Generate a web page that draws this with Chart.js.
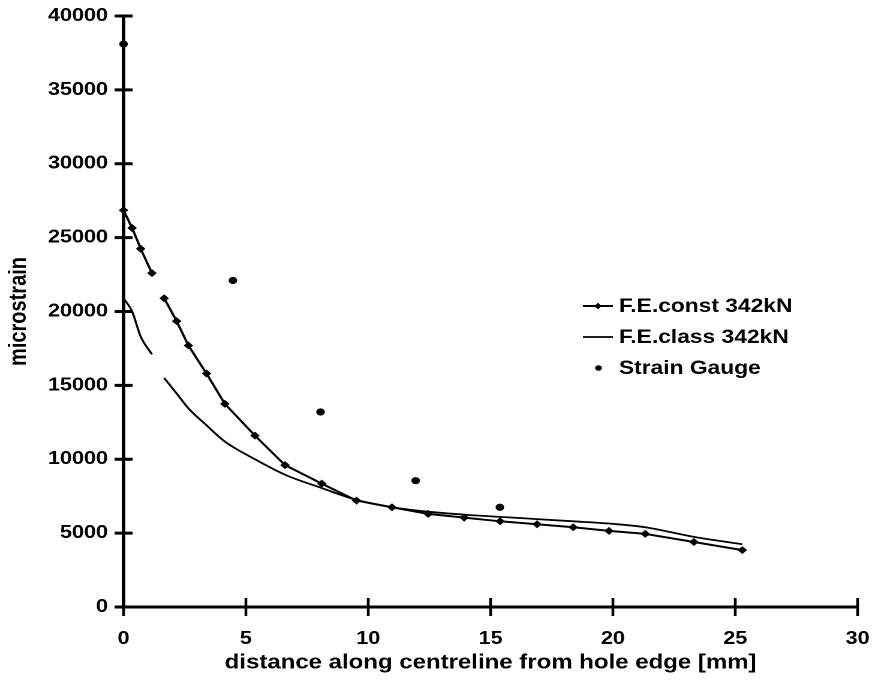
<!DOCTYPE html>
<html>
<head>
<meta charset="utf-8">
<script src="https://cdn.jsdelivr.net/npm/chart.js@4"></script>
<style>
  html, body { margin: 0; padding: 0; background: #fff; overflow: hidden; }
  #wrap { width: 727px; height: 686px; transform: scale(1.19945, 1); transform-origin: 0 0; }
</style>
</head>
<body>
<div id="wrap"><canvas id="c" width="727" height="686"></canvas></div>
<script>
// ---- data ----
const seriesNames = ["F.E.const 342kN", "F.E.class 342kN", "Strain Gauge"];

const constX = [0, 0.35, 0.7, 1.16, 1.41, 1.66, 2.17, 2.65, 3.39, 4.14, 5.37, 6.6, 8.1, 9.52, 10.97, 12.45, 13.92, 15.39, 16.9, 18.38, 19.84, 21.32, 23.31, 25.29];
const constY = [26850, 25650, 24250, 22600, null, 20900, 19350, 17700, 15800, 13750, 11600, 9600, 8350, 7200, 6750, 6300, 6050, 5800, 5600, 5400, 5150, 4950, 4400, 3850];

const classX = [0, 0.35, 0.7, 1.16, 1.41, 1.66, 2.17, 2.65, 3.39, 4.14, 5.37, 6.6, 8.1, 9.52, 10.97, 12.45, 13.92, 15.39, 16.9, 18.38, 19.84, 21.32, 23.31, 25.29];
const classY = [20900, 20000, 18300, 17100, null, 15500, 14450, 13450, 12300, 11200, 10000, 8950, 8050, 7250, 6750, 6450, 6250, 6100, 5950, 5800, 5650, 5400, 4750, 4250];

const gaugeX = [0, 4.47, 8.05, 11.94, 15.38];
const gaugeY = [38100, 22100, 13200, 8550, 6750];

const xTicks = [0, 5, 10, 15, 20, 25, 30];
const yTicks = [0, 5000, 10000, 15000, 20000, 25000, 30000, 35000, 40000];

const xTitle = "distance along centreline from hole edge [mm]";
const yTitle = "microstrain";

// ---- helpers ----
const pts = (xs, ys) => xs.map((x, i) => ({ x: x, y: ys[i] }));
const FONT = "'Liberation Sans', Arial, sans-serif";

const crossTicks = {
  id: 'crossTicks',
  afterDraw(chart) {
    const ctx = chart.ctx, xs = chart.scales.x, ys = chart.scales.y;
    const ca = chart.chartArea;
    ctx.save();
    ctx.strokeStyle = '#000';
    ctx.lineWidth = 2.3;
    xs.ticks.forEach(t => {
      const px = xs.getPixelForValue(t.value);
      ctx.beginPath(); ctx.moveTo(px, ca.bottom - 9); ctx.lineTo(px, ca.bottom + 9); ctx.stroke();
    });
    ctx.lineWidth = 3;
    ys.ticks.forEach(t => {
      const py = ys.getPixelForValue(t.value);
      ctx.beginPath(); ctx.moveTo(ca.left - 7.5, py); ctx.lineTo(ca.left + 7.5, py); ctx.stroke();
    });
    ctx.restore();
  }
};

const customLegend = {
  id: 'customLegend',
  afterDraw(chart, args, opts) {
    const ctx = chart.ctx;
    ctx.save();
    ctx.font = 'bold 19px ' + FONT;
    ctx.fillStyle = '#000';
    ctx.strokeStyle = '#000';
    ctx.textBaseline = 'middle';
    ctx.textAlign = 'left';
    opts.rows.forEach((y, i) => {
      if (i < 2) {
        ctx.lineWidth = i === 0 ? 2 : 1.8;
        ctx.beginPath(); ctx.moveTo(opts.lineX0, y); ctx.lineTo(opts.lineX1, y); ctx.stroke();
        if (i === 0) {
          ctx.beginPath();
          const mx = (opts.lineX0 + opts.lineX1) / 2, r = 3.2;
          ctx.moveTo(mx, y - r); ctx.lineTo(mx + r, y); ctx.lineTo(mx, y + r); ctx.lineTo(mx - r, y); ctx.closePath();
          ctx.fill();
        }
      } else {
        ctx.beginPath(); ctx.arc(opts.dotX, y, 2.8, 0, Math.PI * 2); ctx.fill();
      }
      ctx.fillText(seriesNames[i], opts.textX, y + 1);
    });
    ctx.restore();
  }
};

new Chart(document.getElementById('c'), {
  type: 'scatter',
  data: {
    datasets: [
      {
        label: seriesNames[0], data: pts(constX, constY), showLine: true, spanGaps: false,
        borderColor: '#000', backgroundColor: '#000', borderWidth: 2,
        pointStyle: 'rectRot', pointRadius: 4, pointHoverRadius: 4, pointBorderWidth: 0,
        tension: 0, clip: false
      },
      {
        label: seriesNames[1], data: pts(classX, classY), showLine: true, spanGaps: false,
        borderColor: '#000', backgroundColor: '#000', borderWidth: 1.8,
        pointRadius: 0, pointHoverRadius: 0, cubicInterpolationMode: 'monotone', clip: false
      },
      {
        label: seriesNames[2], data: pts(gaugeX, gaugeY), showLine: false,
        borderColor: '#000', backgroundColor: '#000',
        pointStyle: 'circle', pointRadius: 3.6, pointHoverRadius: 3.6, pointBorderWidth: 0, clip: false
      }
    ]
  },
  options: {
    responsive: false,
    animation: false,
    devicePixelRatio: 2,
    layout: { padding: { top: 16, right: 12, left: 0, bottom: 0 } },
    plugins: {
      legend: { display: false },
      tooltip: { enabled: false },
      customLegend: { rows: [306, 337, 368], lineX0: 486, lineX1: 511, dotX: 499, textX: 516 }
    },
    scales: {
      x: {
        type: 'linear', min: 0, max: 30,
        afterBuildTicks: s => { s.ticks = xTicks.map(v => ({ value: v })); },
        afterFit: s => { s.height = 79; },
        grid: { display: true, drawOnChartArea: false, drawTicks: true, tickLength: 21, color: 'rgba(0,0,0,0)' },
        border: { display: true, color: '#000', width: 3 },
        ticks: { color: '#000', padding: 0, font: { family: FONT, size: 18, weight: 'bold' }, callback: v => String(v) },
        title: { display: true, text: xTitle, color: '#000', padding: { top: 0, bottom: 11 }, font: { family: FONT, size: 20, weight: 'bold' } }
      },
      y: {
        type: 'linear', min: 0, max: 40000,
        afterBuildTicks: s => { s.ticks = yTicks.map(v => ({ value: v })); },
        afterFit: s => { s.width = 103; },
        grid: { display: true, drawOnChartArea: false, drawTicks: true, tickLength: 13, color: 'rgba(0,0,0,0)' },
        border: { display: true, color: '#000', width: 3 },
        ticks: { color: '#000', padding: 0, font: { family: FONT, size: 18, weight: 'bold' }, callback: v => String(v) },
        title: { display: true, text: yTitle, color: '#000', padding: { top: 4, bottom: 0 }, font: { family: FONT, size: 20, weight: 'bold' } }
      }
    }
  },
  plugins: [crossTicks, customLegend]
});
</script>
</body>
</html>
